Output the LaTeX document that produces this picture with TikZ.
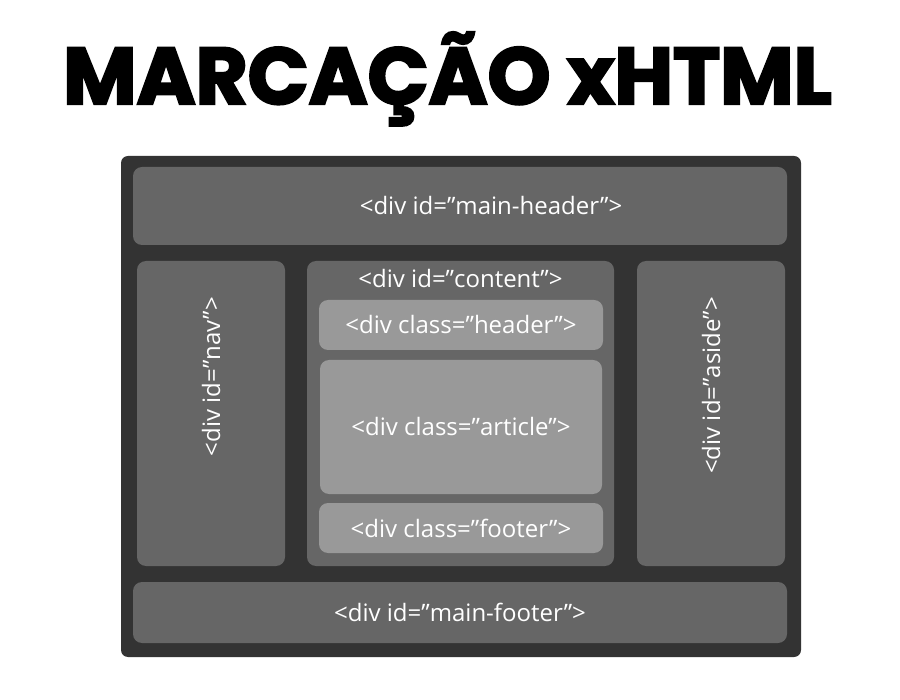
\documentclass[tikz,border=0pt]{standalone}
\usepackage{fontspec}
\usepackage{tikz}
\setmainfont{Open Sans}
\newfontfamily\titlefont{Poppins}[BoldFeatures={FakeBold=3}]
\definecolor{framegray}{HTML}{333333}
\definecolor{panelgray}{HTML}{666666}
\definecolor{innergray}{HTML}{999999}
\tikzset{
  panel/.style={fill=panelgray, rounded corners=9pt, inner sep=0pt},
  tag/.style={text=white, font=\fontsize{24}{28}\selectfont, inner sep=0pt},
  inner/.style={tag, fill=innergray, rounded corners=9pt},
}

\begin{document}
\begin{tikzpicture}[x=1pt, y=-1pt]
\useasboundingbox (0,0) rectangle (900,700);
% title
\node[anchor=base, inner sep=0pt, font=\titlefont\bfseries\fontsize{80}{90}\selectfont] (title) at (447.5,104) {MARCAÇÃO xHTML};
% page frame
\node[fill=framegray, rounded corners=7pt, minimum width=680pt, minimum height=501pt, inner sep=0pt] (frame) at (461,406.5) {};
% header / footer bars
\node[panel, minimum width=654pt, minimum height=78pt] (mainhead) at (460,206) {};
\node[tag] (mainheadlbl) at ([xshift=31pt]mainhead.center) {<div id=”main-header”>};
\node[panel, minimum width=654pt, minimum height=61pt] (mainfoot) at (460,612.5) {};
\node[tag] (mainfootlbl) at (mainfoot.center) {<div id=”main-footer”>};
% side columns
\node[panel, minimum width=148pt, minimum height=305pt] (nav) at (211,413.5) {};
\node[tag, rotate=90, anchor=east] (navlbl) at (211,297) {<div id=”nav”>};
\node[panel, minimum width=148pt, minimum height=305pt] (aside) at (711,413.5) {};
\node[tag, rotate=90, anchor=east] (asidelbl) at (711,297) {<div id=”aside”>};
% content column
\node[panel, minimum width=307pt, minimum height=305pt] (content) at (460.5,413.5) {};
\node[tag, anchor=base] (contentlbl) at (460.5,288) {<div id=”content”>};
\node[inner, minimum width=284pt, minimum height=50pt] (header) at (461,325) {<div class=”header”>};
\node[inner, minimum width=282pt, minimum height=134pt] (article) at (461,427) {<div class=”article”>};
\node[inner, minimum width=284pt, minimum height=50pt] (footer) at (461,528) {<div class=”footer”>};
\end{tikzpicture}
\end{document}
